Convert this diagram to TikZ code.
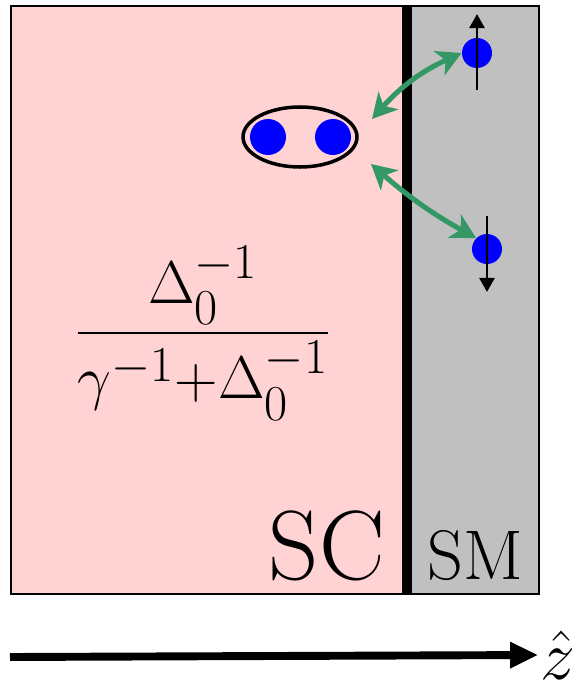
\documentclass[tikz,border=0pt]{standalone}
\usepackage{amsmath,graphicx}
\usetikzlibrary{arrows.meta,shapes.geometric}
\definecolor{scpink}{RGB}{255,211,211}
\definecolor{smgray}{RGB}{192,192,192}
\definecolor{tunnelgreen}{RGB}{52,152,102}

\begin{document}
\begin{tikzpicture}[x=0.02cm,y=-0.02cm,
      region/.style={draw,line width=1.1pt,minimum height=588*0.02cm,inner sep=0pt,anchor=north west},
      electron/.style={circle,fill=blue,inner sep=0pt,minimum size=#1*0.02cm},
      spin/.style={-{Triangle[length=8pt,width=8.5pt]},line width=1.6pt},
      link/.style={{Stealth[length=14pt,width=15pt,inset=4pt]}-{Stealth[length=14pt,width=15pt,inset=4pt]},line width=2.9pt,draw=tunnelgreen},
      label/.style={font=\fontsize{#1}{#1}\selectfont}]
    \useasboundingbox (0,0) rectangle (585,686);
    % the two regions
    \node[region,fill=scpink,minimum width=395*0.02cm] (sc) at (10,5) {};
    \node[region,fill=smgray,minimum width=133*0.02cm] (sm) at (405,5) {};
    \draw[line width=5.5pt] (sc.north east) -- (sc.south east);
    \node[label=56pt,anchor=base east] (sclabel) at (391,579) {SC};
    \node[label=40pt,anchor=base] (smlabel) at (475,579) {SM};
    % Cooper pair
    \node[electron=36] (e1) at (268,137) {};
    \node[electron=36] (e2) at (333,137) {};
    \node[ellipse,draw,line width=2pt,minimum width=114*0.02cm,minimum height=60*0.02cm] (pair) at (300,137) {};
    % spins in the SM
    \node[electron=30] (up) at (477,53) {};
    \draw[spin] (477,90) -- (477,14);
    \node[electron=30] (down) at (487,249) {};
    \draw[spin] (487,216) -- (487,292);
    \coordinate (pairup) at (372,119);
    \coordinate (pairdown) at (371,164);
    \draw[link] (pairup) to[bend left=12] (up.west);
    \draw[link] (pairdown) to[bend right=6] (down.north west);
    % fraction
    \node[label=24.88pt] (ratio) at (203,333)
      {\scalebox{1.38}{$\dfrac{\Delta_0^{-1}}{\gamma^{-1}{+}\Delta_0^{-1}}$}};
    % axis
    \coordinate (zstart) at (10,657);
    \node[label=24.88pt,anchor=west,inner sep=0pt] (zaxis) at (540,655) {\scalebox{1.6}{$\hat{z}$}};
    \draw[-{Triangle[length=16pt,width=14pt]},line width=4.5pt] (zstart) -- ([xshift=-1pt]zaxis.west);
\end{tikzpicture}
\end{document}
